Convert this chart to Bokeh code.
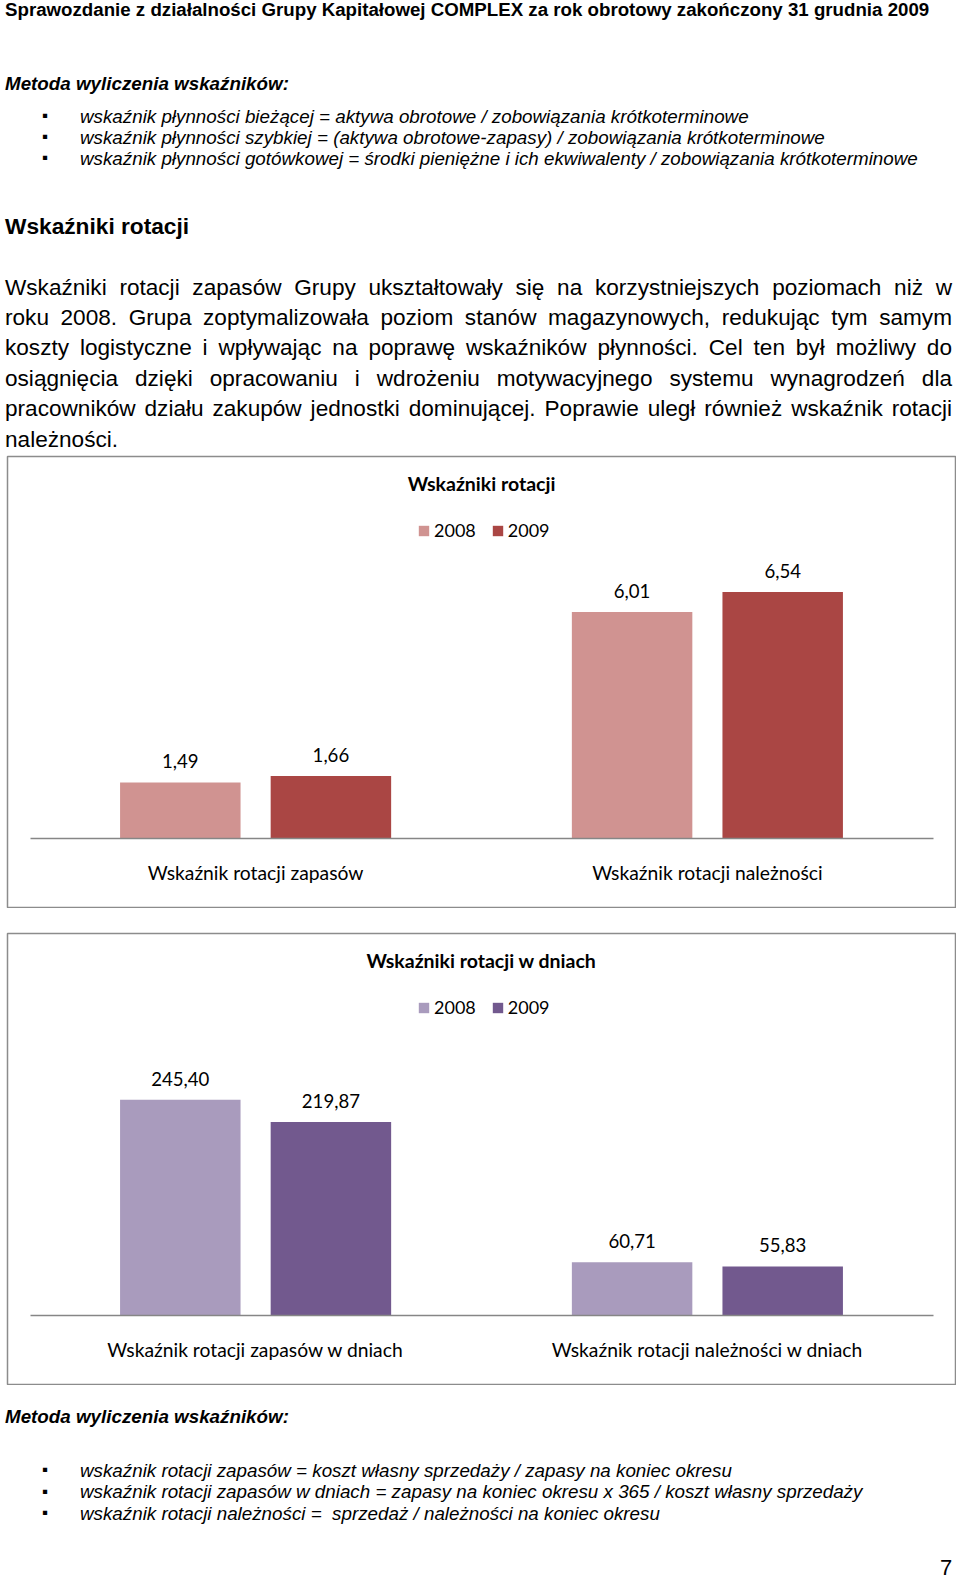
from bokeh.plotting import figure
from bokeh.models import (ColumnDataSource, FactorRange, Range1d, Label, LabelSet,
                          Legend, LegendItem, Div, Spacer, BoxAnnotation)
from bokeh.layouts import column
from bokeh.core.properties import value
from bokeh.embed import file_html
from bokeh.resources import INLINE

# ---------------- data ----------------
years = ["2008", "2009"]

chart1_title = "Wskaźniki rotacji"
chart1_categories = ["Wskaźnik rotacji zapasów", "Wskaźnik rotacji należności"]
chart1_2008 = [1.49, 6.01]
chart1_2009 = [1.66, 6.54]
chart1_colors = ["#D09391", "#AA4644"]

chart2_title = "Wskaźniki rotacji w dniach"
chart2_categories = ["Wskaźnik rotacji zapasów w dniach", "Wskaźnik rotacji należności w dniach"]
chart2_2008 = [245.40, 60.71]
chart2_2009 = [219.87, 55.83]
chart2_colors = ["#A99BBD", "#72598E"]

header_text = "Sprawozdanie z działalności Grupy Kapitałowej COMPLEX za rok obrotowy zakończony 31 grudnia 2009"
method_heading = "Metoda wyliczenia wskaźników:"
liquidity_bullets = [
    "wskaźnik płynności bieżącej = aktywa obrotowe / zobowiązania krótkoterminowe",
    "wskaźnik płynności szybkiej = (aktywa obrotowe-zapasy) / zobowiązania krótkoterminowe",
    "wskaźnik płynności gotówkowej = środki pieniężne i ich ekwiwalenty / zobowiązania krótkoterminowe",
]
section_heading = "Wskaźniki rotacji"
paragraph_lines = [
    "Wskaźniki rotacji zapasów Grupy ukształtowały się na korzystniejszych poziomach niż w",
    "roku 2008. Grupa zoptymalizowała poziom stanów magazynowych, redukując tym samym",
    "koszty logistyczne i wpływając na poprawę wskaźników płynności. Cel ten był możliwy do",
    "osiągnięcia dzięki opracowaniu i wdrożeniu motywacyjnego systemu wynagrodzeń dla",
    "pracowników działu zakupów jednostki dominującej. Poprawie uległ również wskaźnik rotacji",
    "należności.",
]
rotation_bullets = [
    "wskaźnik rotacji zapasów = koszt własny sprzedaży / zapasy na koniec okresu",
    "wskaźnik rotacji zapasów w dniach = zapasy na koniec okresu x 365 / koszt własny sprzedaży",
    "wskaźnik rotacji należności =  sprzedaż / należności na koniec okresu",
]
page_number = "7"

PAGE_FONT = "'Liberation Sans', Arial, sans-serif"
CHART_FONT = "Lato"
BASELINE_PX = 68.9   # distance of the category axis line from the bottom of the chart box


def fmt(v):
    return f"{v:.2f}".replace(".", ",")


def make_chart(title, cats, v2008, v2009, colors, px_per_unit):
    factors = [(c, y) for c in cats for y in years]
    xr = FactorRange(*factors, range_padding=0.259, group_padding=1.0, factor_padding=0.0)
    y_lo = -BASELINE_PX / px_per_unit
    y_hi = (451 - BASELINE_PX) / px_per_unit
    p = figure(width=950, height=453, x_range=xr, y_range=Range1d(y_lo, y_hi),
               output_backend="svg", toolbar_location=None,
               x_axis_location=None, y_axis_location=None,
               min_border=1, min_border_left=1, min_border_right=1,
               min_border_top=1, min_border_bottom=1,
               outline_line_color="#8C8C8C", outline_line_width=1.5,
               background_fill_color="white", border_fill_color="white")
    p.margin = (0, 0, 0, 6)
    for g in p.grid:
        g.visible = False

    # category axis line
    p.add_layout(BoxAnnotation(left=23, right=926, bottom=BASELINE_PX - 0.75,
                               top=BASELINE_PX + 0.75,
                               left_units="screen", right_units="screen",
                               bottom_units="screen", top_units="screen",
                               fill_color="#868686", fill_alpha=1.0, line_color=None,
                               level="overlay"))

    renderers = []
    for yr, vals, col in zip(years, [v2008, v2009], colors):
        src = ColumnDataSource(dict(x=[(c, yr) for c in cats], top=vals,
                                    label=[fmt(v) for v in vals]))
        r = p.vbar(x="x", top="top", bottom=0, width=0.8, source=src,
                   fill_color=col, line_color=None)
        renderers.append(r)
        p.add_layout(LabelSet(x="x", y="top", text="label", source=src,
                              y_offset=21, text_align="center", text_baseline="middle",
                              text_font=value(CHART_FONT), text_font_size="18.6px",
                              text_color="#000000"))

    # category axis labels
    csrc = ColumnDataSource(dict(x=cats, y=[0] * len(cats), label=cats))
    p.add_layout(LabelSet(x="x", y="y", text="label", source=csrc, y_offset=-34,
                          text_align="center", text_baseline="middle",
                          text_font=value(CHART_FONT), text_font_size="19.3px",
                          text_color="#000000"))

    p.add_layout(Label(x=474, y=424, x_units="screen", y_units="screen", text=title,
                       text_align="center", text_baseline="middle",
                       text_font=CHART_FONT, text_font_style="bold",
                       text_font_size="19.5px", text_color="#000000"))

    legend = Legend(items=[LegendItem(label=yr, renderers=[r]) for yr, r in zip(years, renderers)],
                    orientation="horizontal", location=(410, 366),
                    glyph_width=13, glyph_height=13, label_standoff=4, spacing=15,
                    padding=0, margin=0, label_height=18,
                    border_line_color=None, background_fill_alpha=0,
                    label_text_font=CHART_FONT, label_text_font_size="18px",
                    label_text_color="#000000")
    p.add_layout(legend)
    return p


def abs_text(txt, left, center_y, size, weight="normal", style="normal", lh=None, extra=""):
    lh = lh or round(size * 1.2)
    top = center_y - lh / 2
    txt = txt.replace("  ", " &nbsp;")
    return (f'<div style="position:absolute;left:{left}px;top:{top}px;line-height:{lh}px;'
            f'font-size:{size}px;font-weight:{weight};font-style:{style};white-space:nowrap;{extra}">'
            f'{txt}</div>')


# ---------------- top text block ----------------
parts = []
parts.append(abs_text(header_text, 5, 10, 18.7, weight="bold", lh=22))
parts.append(abs_text(method_heading, 5, 83, 18.8, weight="bold", style="italic"))
for i, b in enumerate(liquidity_bullets):
    cy = 116 + 21 * i
    parts.append(abs_text("&#9642;", 42, cy, 17))
    parts.append(abs_text(b, 80, cy, 18.8, style="italic"))
parts.append(abs_text(section_heading, 5, 226, 22.7, weight="bold"))
for i, line in enumerate(paragraph_lines):
    cy = 287 + 30.4 * i
    if i < len(paragraph_lines) - 1:
        extra = "width:947px;text-align:justify;text-align-last:justify;"
    else:
        extra = ""
    parts.append(abs_text(line, 5, cy, 22.6, extra=extra))

top_html = (f'<div style="position:relative;width:960px;height:455px;overflow:hidden;'
            f'font-family:{PAGE_FONT};color:#000;">' + "".join(parts) + "</div>")
top_div = Div(text=top_html, width=960, height=455, margin=0)

# ---------------- footer text block ----------------
fparts = []
fparts.append(abs_text(method_heading, 5, 31, 18.8, weight="bold", style="italic"))
for i, b in enumerate(rotation_bullets):
    cy = 85 + 21.5 * i
    fparts.append(abs_text("&#9642;", 42, cy, 17))
    fparts.append(abs_text(b, 80, cy, 18.8, style="italic"))
fparts.append(abs_text(page_number, 940, 183, 22))
foot_html = (f'<div style="position:relative;width:960px;height:194px;overflow:hidden;'
             f'font-family:{PAGE_FONT};color:#000;">' + "".join(fparts) + "</div>")
foot_div = Div(text=foot_html, width=960, height=194, margin=0)

# ---------------- charts ----------------
p1 = make_chart(chart1_title, chart1_categories, chart1_2008, chart1_2009, chart1_colors, 37.7)
p2 = make_chart(chart2_title, chart2_categories, chart2_2008, chart2_2009, chart2_colors, 0.88)

layout = column(top_div, p1, Spacer(width=960, height=24, margin=0), p2, foot_div,
                spacing=0, margin=0)

with open("out.html", "w") as f:
    f.write(file_html(layout, INLINE))
